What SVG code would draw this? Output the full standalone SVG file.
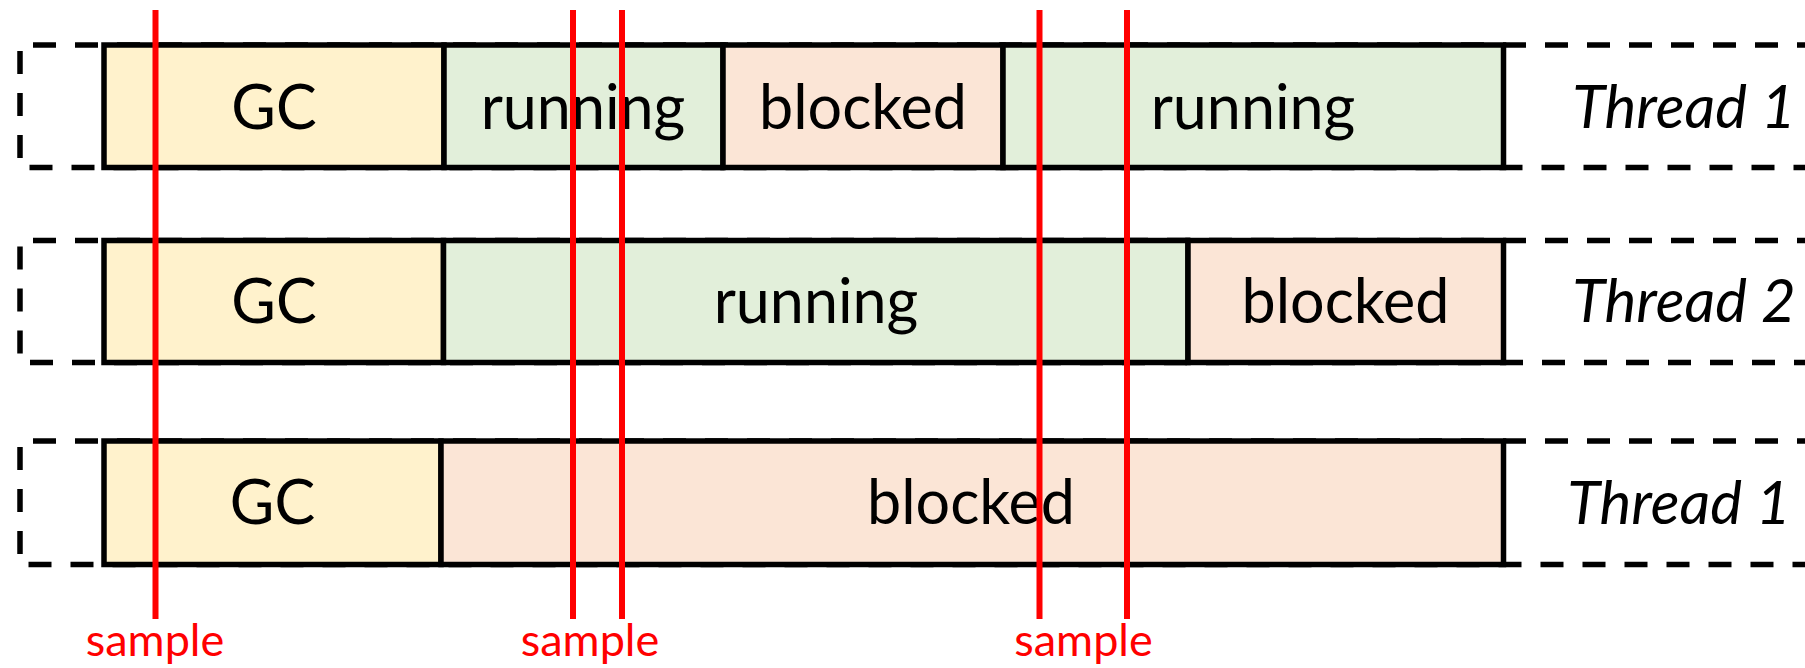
<svg xmlns="http://www.w3.org/2000/svg" width="1805" height="668" viewBox="0 0 1805 668">
<style>
.frame{fill:none;stroke:#000;stroke-width:5.5;stroke-dasharray:23 19}
.box{stroke:#000;stroke-width:5.5}
.gc{fill:#FFF2CC}
.run{fill:#E2EFDA}
.blk{fill:#FBE5D6}
.lbl{font-family:Lato,"Liberation Sans",sans-serif;font-size:61px;fill:#000;text-anchor:middle}
.thr{font-family:Lato,"Liberation Sans",sans-serif;font-size:60px;font-style:italic;fill:#000;text-anchor:middle}
.smp{font-family:Lato,"Liberation Sans",sans-serif;font-size:45px;fill:#FF0000;text-anchor:middle}
.sline{stroke:#FF0000;stroke-width:6}
</style>
<rect width="1805" height="668" fill="#fff"/>
<g id="frames">
<path class="frame" d="M1820 45 H20 V167.5 H1820"/>
<path class="frame" d="M1820 240.5 H20 V362.5 H1820"/>
<path class="frame" d="M1820 441 H20 V564.5 H1820"/>
</g>
<g id="thread1-row1">
<g id="t1-gc"><rect class="box gc" x="104" y="45" width="340" height="122.5"/><text class="lbl" x="274" y="129">GC</text></g>
<g id="t1-running1"><rect class="box run" x="444" y="45" width="279" height="122.5"/><text class="lbl" x="583" y="129">running</text></g>
<g id="t1-blocked"><rect class="box blk" x="723" y="45" width="280" height="122.5"/><text class="lbl" x="863" y="129">blocked</text></g>
<g id="t1-running2"><rect class="box run" x="1003" y="45" width="500.5" height="122.5"/><text class="lbl" x="1253" y="129">running</text></g>
<text class="thr" x="1684" y="128">Thread 1</text>
</g>
<g id="thread2-row2">
<g id="t2-gc"><rect class="box gc" x="104" y="240.5" width="339.5" height="122"/><text class="lbl" x="274" y="323">GC</text></g>
<g id="t2-running"><rect class="box run" x="443.5" y="240.5" width="744.5" height="122"/><text class="lbl" x="816" y="323">running</text></g>
<g id="t2-blocked"><rect class="box blk" x="1188" y="240.5" width="315.5" height="122"/><text class="lbl" x="1345.5" y="323">blocked</text></g>
<text class="thr" x="1684" y="322">Thread 2</text>
</g>
<g id="thread1-row3">
<g id="t3-gc"><rect class="box gc" x="104" y="441" width="337" height="123.5"/><text class="lbl" x="272.5" y="524">GC</text></g>
<g id="t3-blocked"><rect class="box blk" x="441" y="441" width="1062.5" height="123.5"/><text class="lbl" x="971" y="524">blocked</text></g>
<text class="thr" x="1679" y="524">Thread 1</text>
</g>
<g id="connectors">
<line class="sline" x1="155.5" y1="10" x2="155.5" y2="619"/>
<line class="sline" x1="573" y1="10" x2="573" y2="619"/>
<line class="sline" x1="622" y1="10" x2="622" y2="619"/>
<line class="sline" x1="1039.5" y1="10" x2="1039.5" y2="619"/>
<line class="sline" x1="1127" y1="10" x2="1127" y2="619"/>
</g>
<g id="sample-labels">
<text class="smp" x="155" y="656">sample</text>
<text class="smp" x="590" y="656">sample</text>
<text class="smp" x="1083.5" y="656">sample</text>
</g>
</svg>
